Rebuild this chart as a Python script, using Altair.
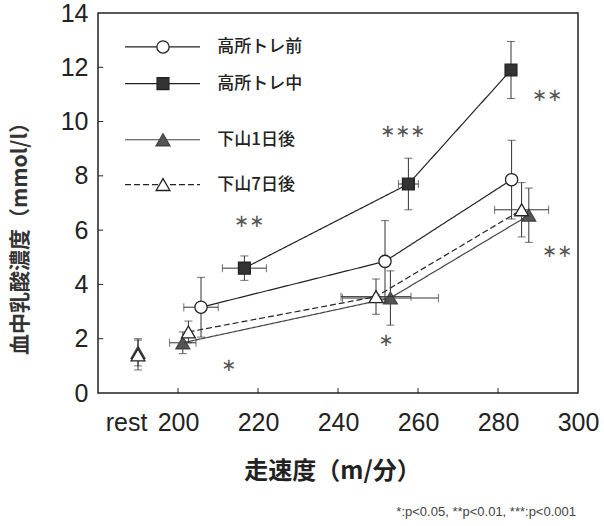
import altair as alt
import pandas as pd

# ---------------- data ----------------
series = ["高所トレ前", "高所トレ中", "下山1日後", "下山7日後"]

pre_x = [205.75, 251.75, 283.4]
pre_y = [3.16, 4.85, 7.86]
pre_yerr = [1.1, 1.5, 1.45]
pre_xerr = [4.3, 0.0, 0.0]

mid_x = [216.6, 257.6, 283.25]
mid_y = [4.6, 7.7, 11.9]
mid_yerr = [0.45, 0.95, 1.05]
mid_xerr = [5.5, 2.5, 0.0]

d1_x = [201.2, 253.1, 287.7]
d1_y = [1.85, 3.5, 6.55]
d1_yerr = [0.4, 1.0, 1.0]
d1_xerr = [3.3, 12.0, 0.0]

d7_x = [202.6, 249.5, 285.9]
d7_y = [2.25, 3.55, 6.75]
d7_yerr = [0.4, 0.65, 1.0]
d7_xerr = [0.0, 8.75, 6.75]

rest_x = 190
rest_y = {"下山1日後": 1.5, "下山7日後": 1.4}
rest_yerr = {"下山1日後": 0.5, "下山7日後": 0.55}

sig_x = [217.8, 212.7, 256.2, 252.0, 292.3, 294.8]
sig_y = [6.3, 1.0, 9.6, 1.9, 10.95, 5.2]
sig_text = ["∗∗", "∗", "∗∗∗", "∗", "∗∗", "∗∗"]

x_ticks = [200, 220, 240, 260, 280, 300]
y_ticks = [0, 2, 4, 6, 8, 10, 12, 14]
legend_y = [12.75, 11.4, 9.33, 7.68]

footnote = "*:p<0.05, **p<0.01, ***:p<0.001"

# ---------------- tables ----------------
vals = {
    "高所トレ前": (pre_x, pre_y, pre_xerr, pre_yerr),
    "高所トレ中": (mid_x, mid_y, mid_xerr, mid_yerr),
    "下山1日後": (d1_x, d1_y, d1_xerr, d1_yerr),
    "下山7日後": (d7_x, d7_y, d7_xerr, d7_yerr),
}
rows = []
for s, (xs, ys, xe, ye) in vals.items():
    for i in range(len(xs)):
        rows.append(dict(series=s, x=xs[i], y=ys[i], xerr=xe[i], yerr=ye[i], rest=False))
for s in rest_y:
    rows.append(dict(series=s, x=rest_x, y=rest_y[s], xerr=0.0, yerr=rest_yerr[s], rest=True))
df = pd.DataFrame(rows)
df["xlo"] = df.x - df.xerr
df["xhi"] = df.x + df.xerr
df["ylo"] = df.y - df.yerr
df["yhi"] = df.y + df.yerr

styles = {
    "高所トレ前": dict(shape="circle", fill="white", stroke="#222", size=150, dash=[1, 0], lc="#222"),
    "高所トレ中": dict(shape="square", fill="#333", stroke="#222", size=140, dash=[1, 0], lc="#222"),
    "下山1日後": dict(shape="triangle-up", fill="#555", stroke="#444", size=190, dash=[1, 0], lc="#444"),
    "下山7日後": dict(shape="triangle-up", fill="white", stroke="#222", size=190, dash=[6, 3], lc="#222"),
}

xs_scale = alt.Scale(domain=[180, 300], nice=False, zero=False)
ys_scale = alt.Scale(domain=[0, 14], nice=False, zero=True)

x_axis = alt.Axis(
    values=[187] + x_ticks,
    labelExpr="datum.value < 190 ? 'rest' : datum.label",
    ticks=False, tickSize=0, grid=False, domain=False,
    labelFont="Liberation Sans", labelFontSize=25, labelColor="#222",
    labelPadding=17, labelFlush=False, labelOverlap=False,
    title="走速度（m/分）", titleFont="Noto Sans CJK JP", titleFontSize=24,
    titleFontWeight="bold", titleColor="#222", titleX=234, titleY=78,
    titleAlign="center", titleBaseline="middle",
)
y_axis = alt.Axis(
    values=y_ticks, ticks=False, tickSize=0, grid=False, domain=False,
    labelFont="Liberation Sans", labelFontSize=25, labelColor="#222",
    labelPadding=10, labelFlush=False, labelOverlap=False,
    title="血中乳酸濃度（mmol/l）", titleFont="Noto Sans CJK JP", titleFontSize=21,
    titleFontWeight="bold", titleColor="#333", titleX=-78, titleY=220,
    titleAlign="center", titleBaseline="middle", titleAngle=270,
)


def X(f):
    return alt.X(f, type="quantitative", scale=xs_scale, axis=x_axis)


def Y(f):
    return alt.Y(f, type="quantitative", scale=ys_scale, axis=y_axis)


layers = []

# inward tick marks
xt_df = pd.DataFrame({"v": x_ticks[:-1], "a": 0.0, "b": 0.18})
yt_df = pd.DataFrame({"v": y_ticks[1:-1], "a": 180.0, "b": 181.3})
layers.append(alt.Chart(xt_df).mark_rule(color="#222", strokeWidth=1).encode(x=X("v"), y=Y("a"), y2="b"))
layers.append(alt.Chart(yt_df).mark_rule(color="#222", strokeWidth=1).encode(y=Y("v"), x=X("a"), x2="b"))

order = ["下山1日後", "下山7日後", "高所トレ前", "高所トレ中"]
for s in order:
    st = styles[s]
    sub = df[df.series == s]
    main = sub[~sub.rest]
    layers.append(alt.Chart(main).mark_line(color=st["lc"], strokeWidth=1.2, strokeDash=st["dash"])
                  .encode(x=X("x"), y=Y("y")))

for s in order:
    st = styles[s]
    sub = df[df.series == s]
    ve = sub[sub.yerr > 0]
    he = sub[sub.xerr > 0]
    c = "#333"
    layers.append(alt.Chart(ve).mark_rule(color=c, strokeWidth=1).encode(x=X("x"), y=Y("ylo"), y2="yhi"))
    layers.append(alt.Chart(ve).mark_tick(color=c, orient="horizontal", size=8, thickness=1).encode(x=X("x"), y=Y("ylo")))
    layers.append(alt.Chart(ve).mark_tick(color=c, orient="horizontal", size=8, thickness=1).encode(x=X("x"), y=Y("yhi")))
    if len(he):
        layers.append(alt.Chart(he).mark_rule(color=c, strokeWidth=1).encode(y=Y("y"), x=X("xlo"), x2="xhi"))
        layers.append(alt.Chart(he).mark_tick(color=c, orient="vertical", size=8, thickness=1).encode(y=Y("y"), x=X("xlo")))
        layers.append(alt.Chart(he).mark_tick(color=c, orient="vertical", size=8, thickness=1).encode(y=Y("y"), x=X("xhi")))
    layers.append(alt.Chart(sub).mark_point(shape=st["shape"], filled=True, fill=st["fill"], stroke=st["stroke"],
                                            strokeWidth=1.3, size=st["size"], opacity=1).encode(x=X("x"), y=Y("y")))

# legend drawn inside the plot
leg = pd.DataFrame({"series": series, "y": legend_y, "x1": 186.75, "x2": 205.5, "xm": 196.25, "xt": 209.8})
for s in series:
    st = styles[s]
    r = leg[leg.series == s]
    layers.append(alt.Chart(r).mark_rule(color=st["lc"], strokeWidth=1.2, strokeDash=st["dash"])
                  .encode(x=X("x1"), x2="x2", y=Y("y")))
    layers.append(alt.Chart(r).mark_point(shape=st["shape"], filled=True, fill=st["fill"], stroke=st["stroke"],
                                          strokeWidth=1.3, size=st["size"], opacity=1).encode(x=X("xm"), y=Y("y")))
    layers.append(alt.Chart(r).mark_text(align="left", baseline="middle", font="Noto Sans CJK JP", fontSize=17,
                                         fontWeight=500, color="#222").encode(x=X("xt"), y=Y("y"), text="series:N"))

# significance marks
sig = pd.DataFrame({"x": sig_x, "y": sig_y, "t": sig_text})
layers.append(alt.Chart(sig).mark_text(font="DejaVu Sans", fontSize=18, color="#555", baseline="middle")
              .encode(x=X("x"), y=Y("y"), text="t:N"))

# footnote
fn = pd.DataFrame({"t": [footnote]})
layers.append(alt.Chart(fn).mark_text(font="Liberation Sans", fontSize=13, color="#444", align="right",
                                      baseline="middle").encode(x=alt.value(478), y=alt.value(499), text="t:N"))

chart = alt.layer(*layers).properties(
    width=480, height=380,
    autosize=alt.AutoSizeParams(type="none"),
    padding={"left": 98, "top": 13, "right": 26, "bottom": 133},
    background="white",
).configure_view(stroke="#222", strokeWidth=1.5)

chart.save("out.html", embed_options={"renderer": "svg", "actions": False})
